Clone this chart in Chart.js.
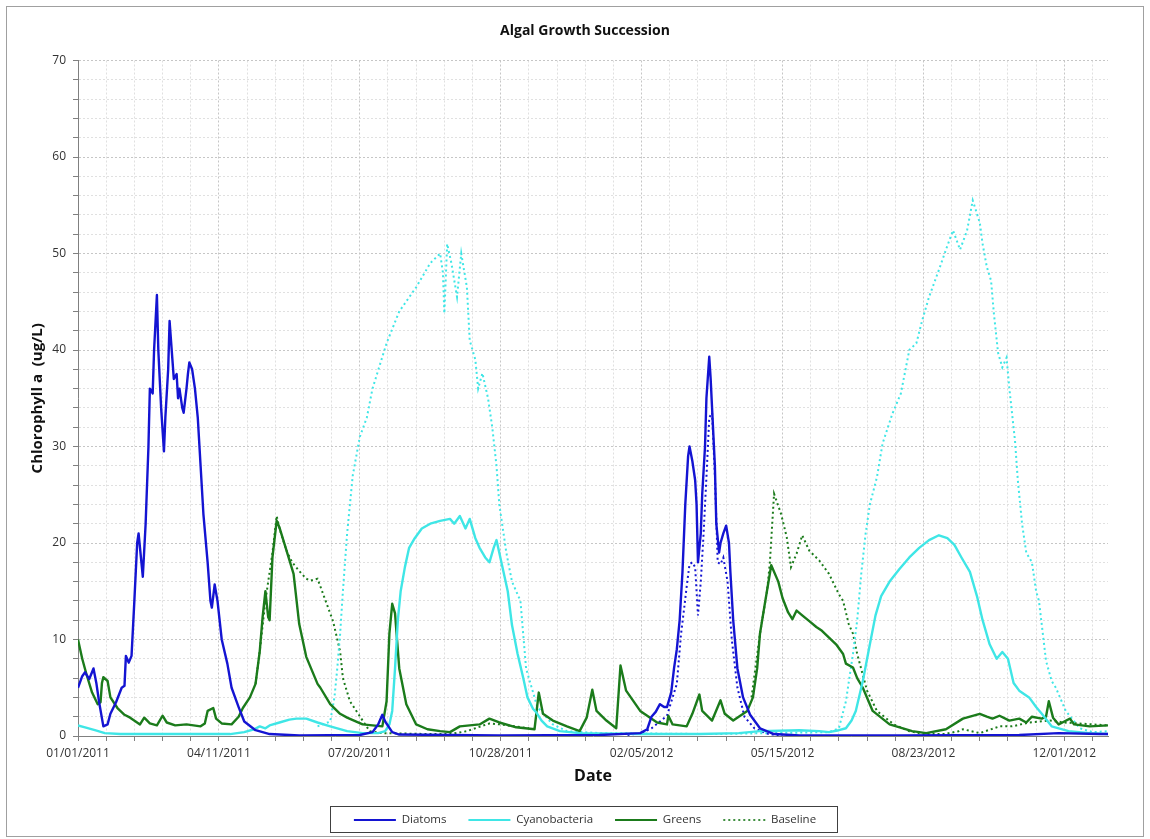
<!DOCTYPE html>
<html><head><meta charset="utf-8">
<script src="https://cdn.jsdelivr.net/npm/chart.js@4.4.1/dist/chart.umd.min.js"></script>
<style>html,body{margin:0;padding:0;background:#fff}</style>
</head><body>
<canvas id="c" width="1150" height="839"></canvas>
<script>
// ---- data: [day since 01/01/2011, chlorophyll a (ug/L)] ----
const xTickLabels = ['01/01/2011','04/11/2011','07/20/2011','10/28/2011','02/05/2012','05/15/2012','08/23/2012','12/01/2012'];
const seriesNames = ['Diatoms','Cyanobacteria','Greens','Baseline'];

const diatoms = [[0,5.0],[3,6.2],[5,6.6],[8,5.9],[11,7.0],[13,5.5],[15,3.5],[18,1.0],[21,1.2],[23,2.3],[27,3.5],[31,5.0],[33,5.2],[34,8.3],[36,7.6],[38,8.3],[40,14],[42,20],[43,21],[45,18],[46,16.5],[48,22],[50,30],[51,36],[53,35.5],[54,40],[56,45.7],[57,40],[59,34],[61,29.5],[62,33],[64,38],[65,43],[67,39],[68,37],[70,37.5],[71,35],[72,36],[74,34],[75,33.5],[77,36],[78,37.5],[79,38.7],[81,38],[83,36],[85,33],[87,28],[89,23],[92,18],[94,14],[95,13.3],[97,15.7],[99,14],[102,10],[106,7.5],[109,5],[114,3],[118,1.5],[126,0.6],[136,0.2],[157,0.05],[200,0.1],[209,0.4],[213,1.2],[216,2.2],[218,1.5],[223,0.4],[228,0.15],[299,0.05],[370,0.1],[399,0.3],[404,0.7],[407,2],[410,2.5],[413,3.3],[416,3.0],[418,3.0],[421,4.5],[423,7],[425,9],[427,12],[429,17],[431,24],[433,29],[434,30],[436,28.5],[438,26.5],[439,24],[440,18],[442,21],[443,25],[445,30],[446,35],[448,39.3],[449,37],[450,34],[452,28],[453,22],[455,19],[456,20],[458,21],[460,21.8],[462,20],[463,17],[465,12],[468,7],[472,4],[477,2.2],[484,0.8],[494,0.2],[512,0.05],[583,0.05],[668,0.1],[696,0.3],[725,0.2],[731,0.2]];

const cyanobacteria = [[0,1.1],[5,0.9],[12,0.6],[19,0.3],[30,0.2],[86,0.2],[108,0.2],[118,0.4],[125,0.7],[129,1.0],[133,0.8],[136,1.1],[143,1.4],[150,1.7],[155,1.8],[162,1.8],[170,1.4],[179,1.0],[191,0.5],[202,0.3],[213,0.3],[218,0.5],[221,1.2],[223,2.6],[225,7],[227,12],[229,15],[232,17.5],[235,19.5],[239,20.5],[244,21.5],[250,22],[257,22.3],[264,22.5],[267,22],[271,22.8],[275,21.5],[278,22.5],[282,20.5],[285,19.5],[289,18.5],[292,18],[295,19.5],[297,20.3],[299,19],[302,17],[305,15],[308,11.5],[312,8.5],[316,6],[319,4],[323,2.8],[325,2.5],[329,1.6],[333,1.0],[342,0.5],[356,0.3],[399,0.2],[441,0.2],[469,0.3],[484,0.5],[512,0.6],[526,0.5],[533,0.4],[540,0.6],[545,0.8],[549,1.6],[552,2.6],[557,5.7],[562,9.5],[566,12.5],[570,14.5],[576,16],[583,17.3],[590,18.5],[597,19.5],[604,20.3],[611,20.8],[617,20.5],[622,19.8],[627,18.5],[633,17],[638,14.5],[642,12],[647,9.5],[652,8.0],[656,8.7],[660,8.0],[664,5.5],[668,4.7],[675,4.0],[680,3],[684,2.3],[691,1.0],[703,0.5],[718,0.3],[731,0.2]];

const greens = [[0,10],[3,8],[6,6.4],[10,4.5],[14,3.3],[16,3.5],[17,5.5],[18,6.1],[21,5.7],[23,4],[28,2.9],[33,2.2],[37,1.9],[44,1.2],[47,1.9],[51,1.3],[56,1.1],[60,2.1],[63,1.4],[69,1.1],[77,1.2],[87,1.0],[90,1.3],[92,2.6],[96,2.9],[98,1.8],[102,1.3],[109,1.2],[114,2.0],[117,2.9],[122,4],[126,5.4],[129,8.8],[131,12.3],[133,15],[135,12.3],[136,12],[138,18.5],[141,22.3],[143,21.6],[148,19.2],[153,16.8],[157,11.6],[162,8.2],[170,5.4],[172,5],[179,3.3],[186,2.3],[191,1.9],[202,1.2],[216,1.0],[219,3.6],[221,10.6],[223,13.7],[225,12.7],[228,7],[233,3.3],[240,1.2],[248,0.7],[257,0.5],[264,0.4],[271,1.0],[285,1.2],[292,1.8],[299,1.4],[311,0.9],[324,0.7],[327,4.5],[330,2.3],[337,1.6],[347,1.0],[356,0.5],[361,1.9],[365,4.8],[368,2.6],[375,1.6],[382,0.8],[385,7.3],[389,4.7],[399,2.6],[411,1.4],[418,1.2],[419,2.1],[422,1.2],[432,1.0],[436,2.3],[441,4.3],[443,2.6],[450,1.6],[456,3.7],[459,2.3],[465,1.6],[475,2.6],[479,4],[482,7],[484,10.6],[487,13.3],[492,17.7],[497,16],[500,14.3],[504,12.8],[507,12.1],[510,13],[514,12.5],[519,11.9],[524,11.3],[528,10.9],[533,10.2],[538,9.5],[543,8.5],[545,7.5],[550,7.1],[553,6],[557,5],[564,2.6],[576,1.2],[592,0.5],[602,0.3],[616,0.7],[628,1.8],[640,2.3],[645,2.0],[649,1.8],[654,2.1],[661,1.6],[668,1.8],[673,1.4],[677,2.0],[684,1.8],[687,2.0],[689,3.6],[692,1.9],[696,1.2],[700,1.5],[704,1.8],[707,1.2],[718,1.0],[731,1.1]];

const diatomsBaseline = [[390,0.1],[400,0.3],[407,0.8],[413,1.5],[418,2.1],[422,4],[425,5.4],[428,10.6],[430,13],[432,15.5],[434,17.8],[436,18],[438,17.5],[440,12.5],[442,16],[444,21],[446,26.8],[448,33],[450,33.5],[452,27],[454,18],[456,17.8],[458,18.5],[461,16],[464,10],[468,5],[473,2],[480,0.8],[490,0.2],[500,0.05]];

const cyanobacteriaBaseline = [[170,1.0],[179,1.5],[182,4],[184,7],[186,10.5],[188,15],[191,21],[195,27],[200,31],[205,33],[209,36],[219,40.7],[228,44],[240,46.5],[250,49],[257,50],[259,48],[260,43.8],[262,51],[265,49],[269,45.5],[272,50],[276,46.5],[278,41],[282,39],[284,36],[287,37.6],[291,35],[294,32],[297,28],[299,24],[304,19],[308,16],[314,14],[318,7],[326,3],[337,1.2],[347,0.5],[370,0.3],[450,0.2],[533,0.4],[540,0.8],[545,3.6],[550,8.5],[553,12],[556,17],[559,21],[562,24],[567,26.8],[571,30.3],[578,33.4],[584,35.5],[590,40],[595,40.7],[599,43],[604,45.5],[611,48.3],[616,50.4],[621,52.4],[626,50.4],[631,52.4],[635,55.5],[640,53.2],[642,51],[645,48.6],[648,47.2],[650,43.8],[653,39.7],[656,38.2],[659,39.2],[661,36],[665,30.6],[667,26.5],[670,22],[673,19],[677,18],[680,15],[682,14],[687,7.8],[691,5.7],[694,5],[701,2.6],[711,0.8],[720,0.4],[731,0.5]];

const greensBaseline = [[126,5.4],[129,8.8],[133,14],[138,19],[141,22.8],[143,21.5],[148,19.2],[152,18],[157,17.1],[162,16.3],[165,16.1],[170,16.3],[175,14.3],[181,11.9],[186,8.8],[188,6.0],[193,3.6],[202,1.6],[207,0.5],[215,0.3],[250,0.2],[264,0.2],[276,0.5],[292,1.3],[300,1.2],[320,0.8],[400,null],[478,4],[484,10.6],[489,15],[491,17.9],[494,25.1],[499,23],[503,20.6],[506,17.5],[510,18.9],[514,20.8],[519,19.2],[526,18.2],[533,16.8],[540,14.7],[543,14],[547,11.6],[550,10.6],[553,8.5],[560,4.7],[567,2.6],[579,1.2],[590,0.5],[600,0.2],[615,0.2],[625,0.5],[628,0.7],[640,0.3],[654,1.0],[663,1.0],[675,1.4],[690,1.6],[700,1.4],[731,1.1]];

// ---- styles ----
const FONT = "'Open Sans', 'DejaVu Sans', sans-serif";
const COL = {diatoms:'#1414d2', cyano:'#3fe6e6', greens:'#1b7b1b'};
const DOT = [2, 3];
const pts = arr => arr.map(p => ({x: p[0], y: p[1]}));
const solid = (label, data, color) => ({label, data: pts(data), borderColor: color, backgroundColor: color, borderWidth: 2.4, pointRadius: 0, tension: 0, fill: false, borderJoinStyle: 'round', order: 1});
const dotted = (label, data, color) => ({label, data: pts(data), borderColor: color, backgroundColor: color, borderWidth: 2, borderDash: DOT, pointRadius: 0, tension: 0, fill: false, order: 2});

const frame = {
  id: 'frame',
  afterDraw(chart) {
    const ctx = chart.ctx;
    ctx.save();
    ctx.strokeStyle = '#a0a0a0'; ctx.lineWidth = 1;
    ctx.strokeRect(6.5, 6.5, 1137, 830);
    const hb = chart.legend && chart.legend.legendHitBoxes;
    if (hb && hb.length) {
      const l = hb[0].left - 24;
      const r = hb[hb.length - 1].left + hb[hb.length - 1].width + 21;
      const t = hb[0].top - 8;
      const b = hb[0].top + hb[0].height + 6.5;
      ctx.strokeStyle = '#404040';
      ctx.strokeRect(Math.round(l) + 0.5, Math.round(t) + 0.5, Math.round(r - l), Math.round(b - t));
    }
    ctx.restore();
  }
};

const legendDefs = [
  {text: seriesNames[0], color: COL.diatoms, dash: []},
  {text: seriesNames[1], color: COL.cyano, dash: []},
  {text: seriesNames[2], color: COL.greens, dash: []},
  {text: seriesNames[3], color: '#3f8f3f', dash: DOT}
];

new Chart(document.getElementById('c'), {
  type: 'line',
  data: {
    datasets: [
      solid('Diatoms', diatoms, COL.diatoms),
      solid('Cyanobacteria', cyanobacteria, COL.cyano),
      solid('Greens', greens, COL.greens),
      dotted('Diatoms baseline', diatomsBaseline, COL.diatoms),
      dotted('Cyanobacteria baseline', cyanobacteriaBaseline, COL.cyano),
      dotted('Greens baseline', greensBaseline, COL.greens)
    ]
  },
  options: {
    responsive: false, animation: false, devicePixelRatio: 1,
    layout: {padding: {top: 6, bottom: 3.25, left: 10, right: -10}},
    plugins: {
      tooltip: {enabled: false},
      title: {display: true, text: 'Algal Growth Succession', color: '#111', font: {family: FONT, size: 14, weight: 'bold'}, padding: {top: 16.6, bottom: 21.1}},
      legend: {
        position: 'bottom', align: 'center',
        labels: {
          usePointStyle: true, pointStyleWidth: 42, padding: 22, color: '#333',
          font: {family: FONT, size: 11.5},
          generateLabels: () => legendDefs.map((d, i) => ({text: d.text, strokeStyle: d.color, fillStyle: d.color, lineWidth: 2, lineDash: d.dash, pointStyle: 'line', hidden: false, datasetIndex: i, fontColor: '#333'}))
        }
      }
    },
    scales: {
      x: {
        type: 'linear', min: 0, max: 731,
        ticks: {stepSize: 20, includeBounds: false, autoSkip: false, maxRotation: 0, padding: 5, color: '#333', font: {family: FONT, size: 12},
          callback: v => (v % 100 === 0 ? (xTickLabels[v / 100] || '') : '')},
        grid: {color: c => (c.tick && c.tick.value % 100 === 0 ? '#c6c6c6' : '#e0e0e0'), lineWidth: 1, tickLength: 5, tickColor: '#808080', tickWidth: 1},
        border: {display: true, color: '#808080', width: 1, dash: [2, 2]},
        title: {display: true, text: 'Date', color: '#111', font: {family: FONT, size: 16, weight: 'bold'}, padding: {top: 0, bottom: 6.6}},
        afterFit: s => { s.height = 56.25; }
      },
      y: {
        min: 0, max: 70,
        ticks: {stepSize: 2, autoSkip: false, padding: 7, color: '#333', font: {family: FONT, size: 12},
          callback: v => (Math.round(v) % 10 === 0 ? Math.round(v) : '')},
        grid: {color: c => (c.tick && Math.round(c.tick.value) % 10 === 0 ? '#c6c6c6' : '#e0e0e0'), lineWidth: 1, tickLength: 5, tickColor: '#808080', tickWidth: 1},
        border: {display: true, color: '#808080', width: 1, dash: [2, 2]},
        title: {display: true, text: 'Chlorophyll a  (ug/L)', color: '#111', font: {family: FONT, size: 15, weight: 'bold'}, padding: {top: 19, bottom: 0}},
        afterFit: s => { s.width = 68; }
      },
      yR: {
        position: 'right', display: true,
        grid: {display: false, drawTicks: false}, border: {display: false}, ticks: {display: false},
        afterFit: s => { s.width = 52; }
      }
    }
  },
  plugins: [frame]
});
</script>
</body></html>
